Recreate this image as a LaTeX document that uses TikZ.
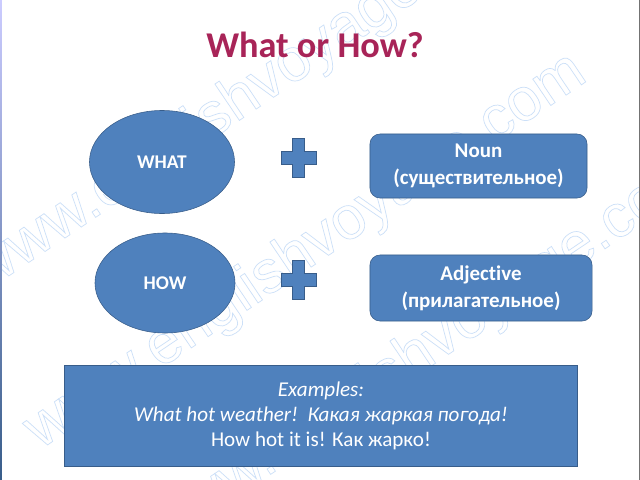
\documentclass[tikz,border=0pt]{standalone}
\usepackage{fontspec}
\setmainfont{Carlito}[Ligatures=NoCommon]
\newfontfamily\markfont{Liberation Sans}
\usetikzlibrary{shapes.geometric}
\definecolor{boxblue}{RGB}{79,129,189}
\definecolor{boxedge}{RGB}{56,93,138}
\definecolor{titlered}{RGB}{168,36,88}
\definecolor{markblue}{RGB}{204,224,248}
\def\plussign(#1,#2){\draw[plusmark] (#1,#2) ++(-6,-19.5) -- ++(12,0) -- ++(0,13) -- ++(11.5,0) -- ++(0,13) -- ++(-11.5,0) -- ++(0,13) -- ++(-12,0) -- ++(0,-13) -- ++(-11.5,0) -- ++(0,-13) -- ++(11.5,0) -- cycle;}
\def\outlined#1{\special{pdf:literal direct 1 Tr 0.5 w}#1\special{pdf:literal direct 0 Tr}}
\tikzset{
  bubble/.style={ellipse, draw=boxedge, fill=boxblue, text=white, inner sep=0pt,
    font=\bfseries\fontsize{13.8}{16}\selectfont},
  wordbox/.style={rectangle, rounded corners=0.25cm, draw=boxedge, fill=boxblue, text=white,
    inner sep=0pt, align=center, font=\bfseries\fontsize{14.9}{19.2}\selectfont},
  examplebox/.style={rectangle, draw=boxedge, fill=boxblue, text=white, inner sep=0pt,
    align=center, font=\fontsize{15}{17.8}\selectfont},
  plusmark/.style={draw=boxedge, fill=boxblue, line width=0.6pt},
  watermark/.style={text=markblue, rotate=34, anchor=base west, inner sep=0pt,
    font=\markfont\fontsize{43}{43}\selectfont},
}
\begin{document}
\begin{tikzpicture}[x=0.025cm, y=-0.025cm]
		%%%%% START %%%%%
		\useasboundingbox (0, 0) rectangle (640, 480);
		\fill[white] (0, 0) rectangle (640, 480);
		
		% watermark
		\node[watermark] (markA) at (-15, 292) {\outlined{www.englishvoyage.com}};
		\node[watermark] (markB) at (40, 450) {\outlined{www.englishvoyage.com}};
		\node[watermark] (markC) at (160, 549) {\outlined{www.englishvoyage.com}};
		
		% slide edges
		\shade[top color=blue!20!white, bottom color=boxedge] (0, 0) rectangle (2, 480);
		\draw[line width=0.6pt, color=black!55] (639.3, 0) -- (639.3, 480);
		
		\node[anchor=base, text=titlered, font=\bfseries\fontsize{25.8}{30}\selectfont] (title) at (315, 57) {What or How?};
		
		\node[bubble, minimum width=3.625cm, minimum height=2.575cm] (what) at (162, 162) {WHAT};
		\node[bubble, minimum width=3.5cm, minimum height=2.5cm] (how) at (165, 283) {HOW};
		
		\plussign(298.5, 158)
		\plussign(298.5, 280)
		
		\node[wordbox, minimum width=5.425cm, minimum height=1.6cm] (noun) at (478.5, 166) {Noun\\(существительное)};
		\node[wordbox, minimum width=5.55cm, minimum height=1.65cm] (adjective) at (481, 288) {Adjective\\(прилагательное)};
		
		\node[examplebox, minimum width=12.81cm, minimum height=2.525cm] (examples) at (321, 416)
			{\itshape Examples:\\\itshape What hot weather!\ \ Какая жаркая погода!\\How hot it is! Как жарко!};
		
		%%%%% END %%%%%
\end{tikzpicture}
\end{document}
